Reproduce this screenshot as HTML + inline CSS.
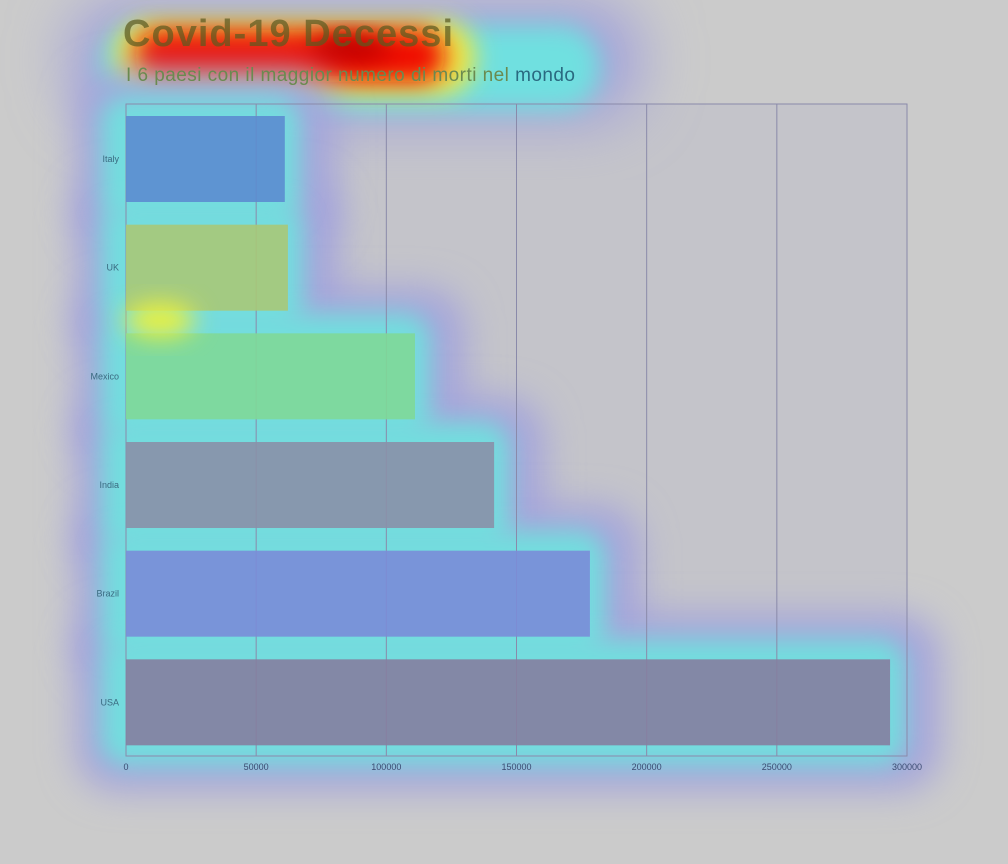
<!DOCTYPE html>
<html><head><meta charset="utf-8"><style>
body{margin:0;background:#cbcbcb;}
svg{display:block;font-family:"Liberation Sans",sans-serif;}
</style></head><body>
<svg id="chart" width="1008" height="864" viewBox="0 0 1008 864">
<defs>
<filter id="b40" x="-50%" y="-50%" width="200%" height="200%"><feGaussianBlur stdDeviation="30"/></filter>
<filter id="b20" x="-50%" y="-50%" width="200%" height="200%"><feGaussianBlur stdDeviation="18"/></filter>
<filter id="b12" x="-50%" y="-50%" width="200%" height="200%"><feGaussianBlur stdDeviation="12"/></filter>
</defs>
<rect width="1008" height="864" fill="#cbcbcb"/>
<rect x="126" y="104" width="781" height="652" fill="#c4c4ca"/>
<g id="heat">
<rect x="70" y="0" width="570" height="120" rx="50" fill="#a0a0dc" filter="url(#b40)"/>
<rect x="100" y="25" width="500" height="85" rx="40" fill="#70e0e0" filter="url(#b12)"/>
<rect x="115" y="20" width="360" height="75" rx="35" fill="#f0e840" filter="url(#b12)"/>
<rect x="135" y="30" width="310" height="52" rx="26" fill="#f01000" filter="url(#b12)"/>
<ellipse cx="350" cy="48" rx="40" ry="14" fill="#c00000" filter="url(#b12)"/>
</g>
<g id="glow"></g>
<g id="grid"></g>
<g id="bars"></g>
<ellipse cx="160" cy="320" rx="35" ry="18" fill="#e8f040" filter="url(#b12)"/>
<g id="labels"></g>
<text x="123" y="46" font-size="38" font-weight="bold" fill="#5a5a20" fill-opacity="0.7" textLength="330">Covid-19 Decessi</text>
<text x="126" y="81" font-size="19" fill="#6a8a50" textLength="449">I 6 paesi con il maggior numero di morti nel <tspan fill="#2a6a80">mondo</tspan></text>
</svg>
<script>
const countries = ["Italy","UK","Mexico","India","Brazil","USA"];
const deaths = [61000, 62200, 111000, 141400, 178200, 293500];
const ticks = [0,50000,100000,150000,200000,250000,300000];
const barColors = ["#5c8cd0","#a8c878","#80d898","#8a90a8","#7a8cd8","#857ea0"];
const x0=126,x1=907,y0=104,y1=756,xMax=300000;
const xs=v=>x0+(v/xMax)*(x1-x0);
const band=(y1-y0)/countries.length;
const NS="http://www.w3.org/2000/svg";
const grid=document.getElementById('grid'),bars=document.getElementById('bars'),labels=document.getElementById('labels'),glow=document.getElementById('glow');
function mk(t,a){const e=document.createElementNS(NS,t);for(const k in a)e.setAttribute(k,a[k]);return e;}
const frame=mk('rect',{x:x0,y:y0,width:x1-x0,height:y1-y0,fill:'none',stroke:'#8a8aaa','stroke-width':1});


grid.appendChild(frame);
countries.forEach((c,i)=>{
  const yt=y0+i*band+12;
  const w=xs(deaths[i])-x0;
  const g1=mk('rect',{x:x0-50,y:yt-45,width:w+100,height:176,rx:40,fill:'#a4a4dc',filter:'url(#b20)'});
  
  
  glow.appendChild(g1);
});
countries.forEach((c,i)=>{
  const yt=y0+i*band+12;
  const w=xs(deaths[i])-x0;
  const g2=mk('rect',{x:x0-25,y:yt-20,width:w+40,height:126,rx:25,fill:'#72dede',filter:'url(#b12)'});
  
  
  glow.appendChild(g2);
});
ticks.forEach(t=>{
  const l=mk('line',{x1:xs(t),x2:xs(t),y1:y0,y2:y1,stroke:'#8a8aaa','stroke-width':1});
  
  
  grid.appendChild(l);
  const tx=mk('text',{x:xs(t),y:770,'font-size':9,'text-anchor':'middle',fill:'#3a4a70'});
  tx.textContent=t;
  
  
  labels.appendChild(tx);
});
countries.forEach((c,i)=>{
  const yt=y0+i*band+12;
  const r=mk('rect',{x:x0,y:yt,width:xs(deaths[i])-x0,height:86,fill:barColors[i],'fill-opacity':0.9});
  
  
  bars.appendChild(r);
  const tx=mk('text',{x:119,y:yt+46,'font-size':9,'text-anchor':'end',fill:'#3a6a80'});
  tx.textContent=c;
  
  
  labels.appendChild(tx);
});
</script>
</body></html>
